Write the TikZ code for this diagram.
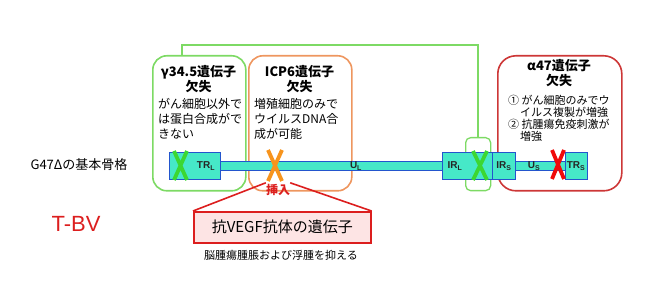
\documentclass[tikz,border=0pt]{standalone}
\usepackage{fontspec}
\setmainfont{Liberation Sans}
\newfontfamily\jp{Noto Sans CJK JP}
\usetikzlibrary{calc}
\definecolor{lgreen}{RGB}{125,218,100}
\definecolor{xgreen}{RGB}{60,215,50}
\definecolor{lorange}{RGB}{238,150,95}
\definecolor{xorange}{RGB}{247,148,29}
\definecolor{dred}{RGB}{205,55,55}
\definecolor{xred}{RGB}{240,10,10}
\definecolor{insred}{RGB}{220,30,30}
\definecolor{segfill}{RGB}{70,232,200}
\definecolor{segline}{RGB}{35,85,205}
\definecolor{pinkfill}{RGB}{253,228,228}
\tikzset{
  infobox/.style={draw, line width=1.6pt, inner sep=0pt, anchor=north west},
  gbox/.style={infobox, draw=lgreen, rounded corners=14pt},
  obox/.style={infobox, draw=lorange, rounded corners=14pt},
  rbox/.style={infobox, draw=dred, rounded corners=18pt},
  seg/.style={draw=segline, fill=segfill, line width=1pt, inner sep=0pt, anchor=north west},
  seglabel/.style={font=\fontsize{10}{10}\selectfont\bfseries, text=black!85, inner sep=0pt},
  xline/.style={line width=3.8pt},
  title/.style={font=\jp\bfseries\fontsize{13}{15}\selectfont, align=center, inner sep=0pt, anchor=north},
  body/.style={font=\jp\fontsize{12}{15}\selectfont, align=left, inner sep=0pt, anchor=north west},
  rbody/.style={font=\jp\fontsize{11}{12}\selectfont, align=left, inner sep=0pt, anchor=north west},
  gline/.style={draw=lgreen, line width=1.5pt},
  insline/.style={draw=insred, line width=1.6pt}
}
\begin{document}
\begin{tikzpicture}[x=1pt,y=-1pt]
\useasboundingbox (0,0) rectangle (648,288);
% info boxes
\node[gbox, minimum width=93pt, minimum height=135pt] (gb) at (152,55) {};
\node[obox, minimum width=103pt, minimum height=135pt] (ob) at (248,55) {};
\node[rbox, minimum width=124pt, minimum height=135pt] (rb) at (497,55) {};
\node[draw=lgreen, line width=1.3pt, rounded corners=5pt, inner sep=0pt, anchor=north west, minimum width=25pt, minimum height=53pt] (gs) at (465,137) {};
% green connector
\coordinate (gtop) at (182,45);
\draw[gline] (gb.north -| gtop) -- (gtop) -| (gs.north);
% texts in boxes
\node[title] (gt) at (198.5,65.5) {γ34.5遺伝子\\欠失};
\node[body] (gbt) at (158,98) {がん細胞以外で\\は蛋白合成がで\\きない};
\node[title] (ot) at (299.5,65.5) {ICP6遺伝子\\欠失};
\node[body] (obt) at (254,98) {増殖細胞のみで\\ウイルスDNA合\\成が可能};
\node[title] (rt) at (559,59.5) {α47遺伝子\\欠失};
\node[rbody] (rbt) at (508,94.5) {① がん細胞のみでウ\\\hspace{12pt}イルス複製が増強\\② 抗腫瘍免疫刺激が\\\hspace{12pt}増強};
% genome segments
\node[seg, minimum width=222pt, minimum height=9pt] (ul) at (220,161) {};
\node[seg, minimum width=50pt, minimum height=9pt] (us) at (515,161) {};
\node[seg, minimum width=51pt, minimum height=27pt] (trl) at (169,152) {};
\node[seg, minimum width=50pt, minimum height=27pt] (irl) at (442,152) {};
\node[seg, minimum width=23pt, minimum height=27pt] (irs) at (492,152) {};
\node[seg, minimum width=22pt, minimum height=27pt] (trs) at (565,152) {};
% segment labels
\node[seglabel] (trlt) at (206,166) {TR\textsubscript{L}};
\node[seglabel] (ult) at (356,166) {U\textsubscript{L}};
\node[seglabel] (irlt) at (455,166) {IR\textsubscript{L}};
\node[seglabel] (irst) at (504,166) {IR\textsubscript{S}};
\node[seglabel] (ust) at (534,166) {U\textsubscript{S}};
\node[seglabel] (trst) at (576,166) {TR\textsubscript{S}};
% X marks
\draw[xline, xgreen] (174,151) -- (187,180) (187,151) -- (174,180);
\draw[xline, xgreen] (473,151) -- (487,180) (487,151) -- (473,180);
\draw[xline, xorange] (268,150) -- (282,181) (282,150) -- (268,181);
\draw[xline, xred] (552,150) -- (564,179) (564,150) -- (552,179);
% insertion
\node[font=\jp\bfseries\fontsize{12}{12}\selectfont, text=insred, inner sep=0pt, minimum width=22pt, minimum height=14pt] (ins) at (278,190) {挿入};
\node[draw=insred, fill=pinkfill, line width=1.6pt, inner sep=0pt, anchor=north west, minimum width=177pt, minimum height=31pt, font=\jp\fontsize{15}{15}\selectfont] (vegf) at (193,211) {抗VEGF抗体の遺伝子};
\draw[insline] (ins.north west) -- (vegf.north west);
\draw[insline] (ins.north east) -- (vegf.north east);
\node[font=\jp\fontsize{11}{11}\selectfont, inner sep=0pt] (cap) at (281,255) {脳腫瘍腫脹および浮腫を抑える};
% left labels
\node[font=\jp\fontsize{13}{13}\selectfont, inner sep=0pt] (g47) at (79,165) {G47Δの基本骨格};
\node[font=\fontsize{22}{22}\selectfont, text=insred, inner sep=0pt] (tbv) at (76,224) {T-BV};
\end{tikzpicture}
\end{document}
